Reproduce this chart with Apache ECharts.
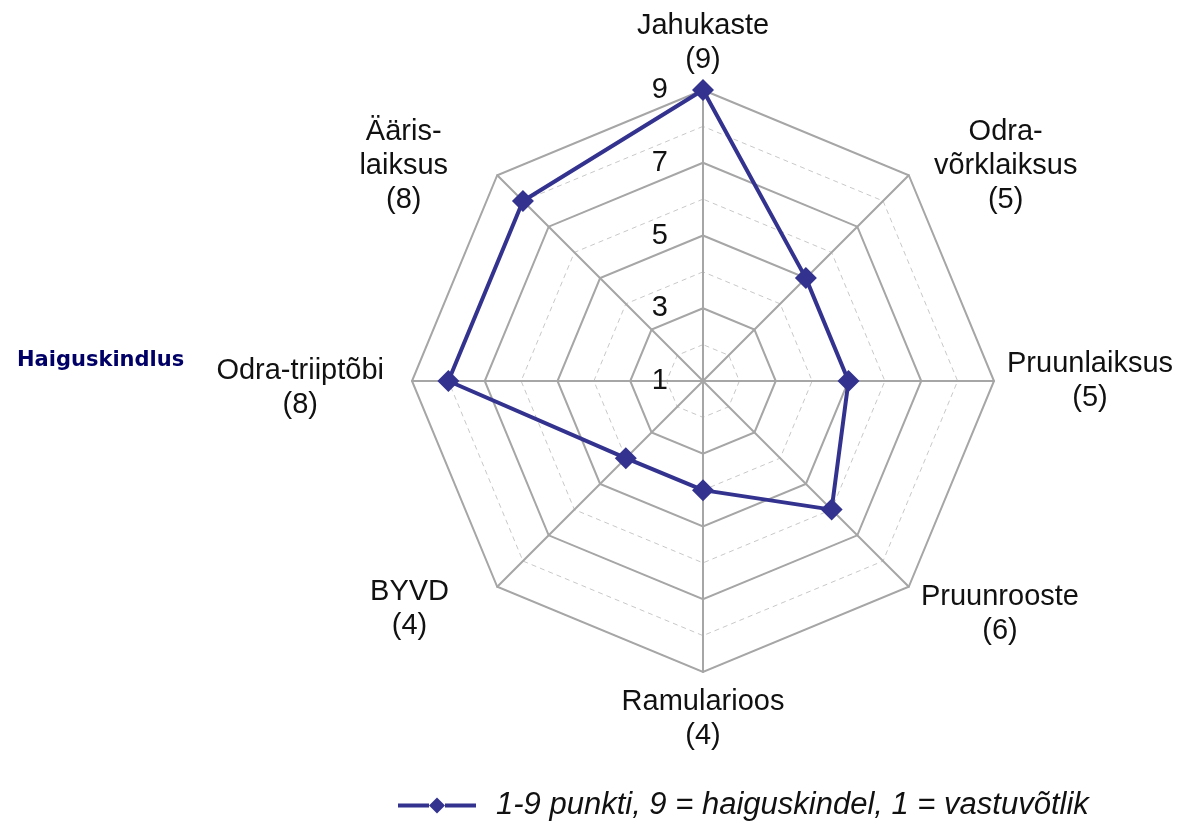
<!DOCTYPE html>
<html>
<head>
<meta charset="utf-8">
<script src="https://cdn.jsdelivr.net/npm/echarts@6/dist/echarts.min.js"></script>
<style>
  html, body { margin: 0; padding: 0; background: #fff; }
  #main { width: 1180px; height: 821px; }
</style>
</head>
<body>
<div id="main"></div>
<script>
// echarts radar goes counter-clockwise from the top
var names = ['Jahukaste', 'Ääris-\nlaiksus', 'Odra-triiptõbi', 'BYVD', 'Ramularioos', 'Pruunrooste', 'Pruunlaiksus', 'Odra-\nvõrklaiksus'];
var scores = [9, 8, 8, 4, 4, 6, 5, 5];
var seriesName = '1-9 punkti, 9 = haiguskindel, 1 = vastuvõtlik';
var sideTitle = 'Haiguskindlus';

var chart = echarts.init(document.getElementById('main'));

var center = [703, 381];
var radius = 291;

// small nudges of the axis names: [left pad, right pad, push down]
var nudge = [[0, 0, 0], [0, 40, 0], [0, 15, 14], [0, 39, 26], [0, 0, 0], [3, 0, 36], [0, 0, 0], [16, 0, 0]];

var rich = {};
nudge.forEach((n, i) => {
    rich['n' + i] = {
        align: 'center', fontFamily: 'Liberation Sans', fontSize: 29, lineHeight: 34, color: '#111',
        padding: [0, n[1], 0, n[0]]
    };
    rich['e' + i] = { fontSize: 1, lineHeight: n[2] };
});

var indicators = withLabel => names.map((n, i) => {
    let ind = { name: n + '\n(' + scores[i] + ')', min: 1, max: 9 };
    if (withLabel && i === 0) ind.axisLabel = { show: true };
    return ind;
});

var nameFormatter = txt => {
    let i = indicators(false).findIndex(d => d.name === txt);
    let lines = txt.split('\n').map(l => '{n' + i + '|' + l + '}');
    if (nudge[i][2]) lines.unshift('{e' + i + '| }');
    return lines.join('\n');
};

var legendIcon = 'path://M0,6 L31,6 L31,10 L0,10 Z M39,0 L47,8 L39,16 L31,8 Z M47,6 L78,6 L78,10 L47,10 Z';

var option = {
    animation: false,
    title: {
        text: sideTitle,
        left: 12,
        top: 345,
        textStyle: { fontFamily: 'DejaVu Sans', fontWeight: 'bold', fontSize: 21, color: '#000066' }
    },
    legend: {
        left: 393,
        top: 785,
        itemWidth: 78,
        itemHeight: 16,
        textStyle: { fontFamily: 'Liberation Sans', fontStyle: 'italic', fontSize: 31, color: '#111', padding: [0, 0, 0, 15] },
        data: [{ name: seriesName, icon: legendIcon }]
    },
    radar: [
        {
            center: center,
            radius: radius,
            startAngle: 90,
            splitNumber: 8,
            shape: 'polygon',
            indicator: indicators(false),
            axisName: { show: false },
            axisLine: { show: false },
            splitArea: { show: false },
            splitLine: { lineStyle: { color: '#c8c8c8', width: 1, type: [5, 4] } }
        },
        {
            center: center,
            radius: radius,
            startAngle: 90,
            splitNumber: 4,
            shape: 'polygon',
            indicator: indicators(true),
            nameGap: 13,
            axisName: { formatter: nameFormatter, rich: rich },
            axisLine: { show: true, lineStyle: { color: '#a6a6a6', width: 2 } },
            axisTick: { show: false },
            axisLabel: { show: false, fontFamily: 'Liberation Sans', fontSize: 29, color: '#111', margin: 35 },
            splitArea: { show: false },
            splitLine: { lineStyle: { color: '#a6a6a6', width: 2 } }
        }
    ],
    series: [
        {
            name: seriesName,
            type: 'radar',
            radarIndex: 1,
            symbol: 'diamond',
            symbolSize: 22,
            itemStyle: { color: '#33338f' },
            lineStyle: { color: '#33338f', width: 4 },
            data: [{ value: scores, name: seriesName }]
        }
    ]
};
chart.setOption(option);
</script>
</body>
</html>
